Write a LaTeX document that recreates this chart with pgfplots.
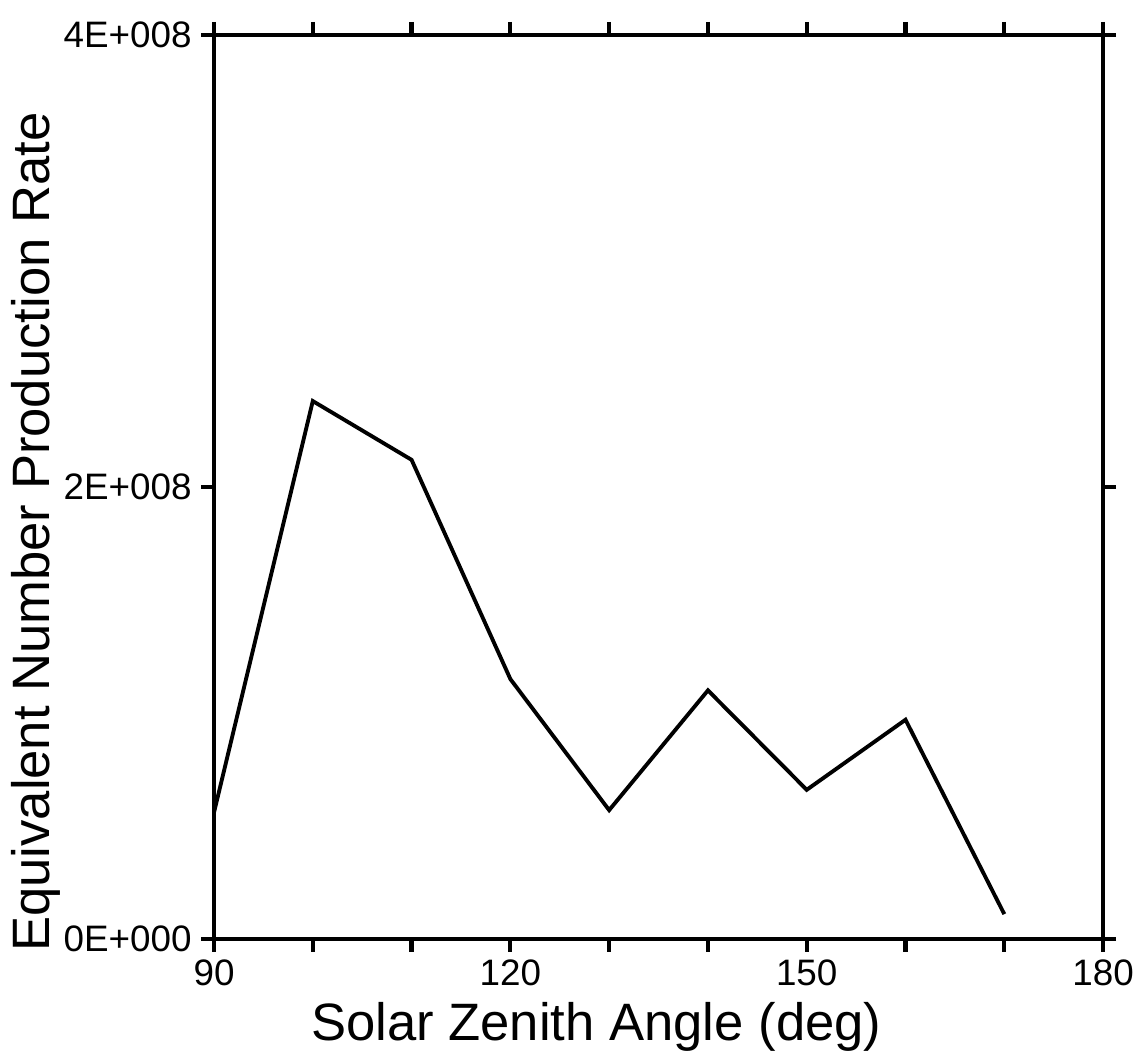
\documentclass[border=0pt]{standalone}
\usepackage{fontspec}
\setmainfont{Liberation Sans}
\usepackage{pgfplots}
\pgfplotsset{compat=1.18}

\begin{document}
\begin{tikzpicture}
\begin{axis}[
    scale only axis,
    width=89.1mm, height=90.6mm,
    xmin=90, xmax=180,
    ymin=0, ymax=4e8,
    axis line style={line width=1.3pt},
    tick style={line width=1.2pt, black},
    tick align=outside,
    major tick length=1.3mm,
    xtick={90,100,...,180},
    xticklabels={90,,,120,,,150,,,180},
    ytick={0,2e8,4e8},
    yticklabels={0E+000,2E+008,4E+008},
    scaled y ticks=false,
    tick label style={font=\fontsize{10.5}{12}\selectfont},
    xticklabel style={yshift=0.5mm},
    yticklabel style={xshift=0.3mm},
    xlabel={Solar Zenith Angle (deg)},
    ylabel={Equivalent Number Production Rate},
    label style={font=\fontsize{15}{18}\selectfont},
    xlabel style={at={(axis description cs:0.43,-0.097)}, anchor=center},
    ylabel style={at={(axis description cs:-0.2,0.45)}, anchor=center},
]
\addplot[black, line width=1.1pt] coordinates {
    (90, 0.56e8)
    (100, 2.38e8)
    (110, 2.12e8)
    (120, 1.15e8)
    (130, 0.57e8)
    (140, 1.10e8)
    (150, 0.66e8)
    (160, 0.97e8)
    (170, 0.11e8)
};
\coordinate (bl) at (rel axis cs:0,0);
\coordinate (tr) at (rel axis cs:1,1);
\end{axis}
\path (bl) ++(-21.2mm,-11.2mm) (tr) ++(4.5mm,3.5mm);
\end{tikzpicture}
\end{document}
